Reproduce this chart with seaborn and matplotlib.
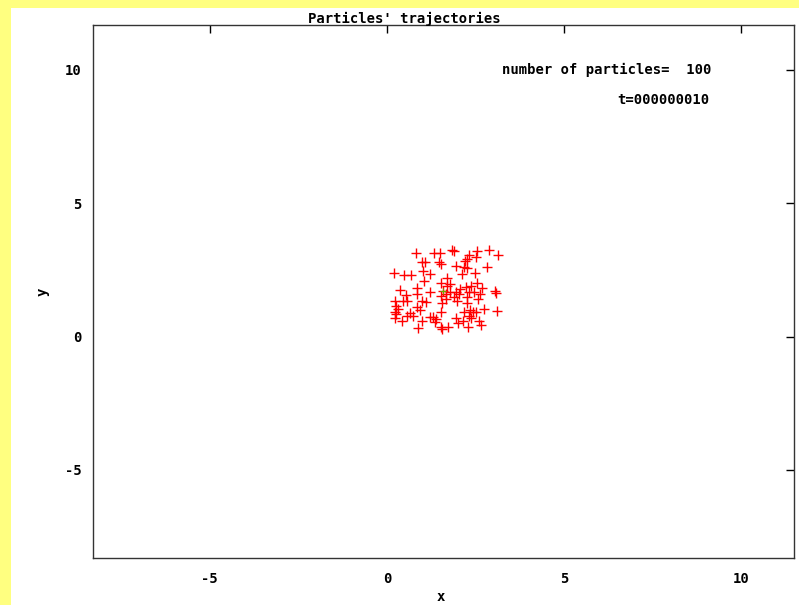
import matplotlib
matplotlib.use("Agg")
import matplotlib.pyplot as plt
import seaborn as sns
import pandas as pd
from matplotlib.patches import Rectangle

# particle positions
px = [0.82, 1.34, 1.50, 1.85, 1.89, 2.33, 2.55, 2.89, 3.13, 0.98,
      1.07, 1.48, 1.52, 1.95, 2.20, 2.25, 2.53, 2.18, 2.27, 2.83,
      0.20, 0.49, 0.68, 1.03, 1.23, 2.11, 2.49, 1.70, 1.05, 1.54,
      1.69, 2.23, 2.39, 2.55, 2.70, 0.37, 0.84, 1.21, 1.59, 1.78,
      1.95, 2.04, 2.33, 2.46, 2.63, 3.05, 3.08, 0.54, 0.84, 1.54,
      1.67, 1.89, 2.27, 2.58, 0.23, 0.46, 0.56, 0.98, 1.10, 1.99,
      0.27, 0.84, 1.57, 2.27, 0.93, 2.34, 2.44, 0.23, 0.65, 0.74,
      1.29, 1.52, 1.95, 2.18, 2.53, 2.74, 3.10, 0.23, 0.44, 0.98,
      1.40, 2.16, 2.39, 2.61, 0.89, 1.52, 1.57, 1.73, 2.30, 0.27,
      0.32, 0.56, 1.21, 2.33, 2.67, 2.01, 1.36, 1.78, 2.06, 1.67]
py = [3.12, 3.12, 3.12, 3.25, 3.20, 3.04, 3.22, 3.25, 3.04, 2.81,
      2.81, 2.79, 2.72, 2.66, 2.85, 2.91, 2.97, 2.62, 2.57, 2.60,
      2.39, 2.31, 2.31, 2.45, 2.35, 2.35, 2.39, 2.20, 2.10, 2.00,
      1.91, 1.87, 1.91, 2.00, 1.82, 1.75, 1.82, 1.66, 1.72, 1.66,
      1.66, 1.60, 1.66, 1.66, 1.60, 1.72, 1.62, 1.57, 1.60, 1.54,
      1.60, 1.47, 1.47, 1.41, 1.35, 1.32, 1.35, 1.35, 1.29, 1.35,
      1.16, 1.12, 1.25, 1.25, 1.00, 1.00, 0.94, 0.91, 0.87, 0.79,
      0.75, 0.91, 0.70, 0.91, 0.91, 1.04, 0.95, 0.70, 0.57, 0.57,
      0.66, 0.60, 0.70, 0.60, 0.33, 0.35, 0.29, 0.35, 0.35, 0.85,
      1.04, 0.79, 0.75, 0.79, 0.45, 0.50, 0.54, 1.97, 1.79, 1.41]
center_x = [1.59]
center_y = [1.72]
ticks = [-5, 0, 5, 10]
n_particles = 100
step = 10

df = pd.DataFrame({"x": px, "y": py})

sns.set_style("white")
plt.rcParams["font.family"] = ["DejaVu Sans Mono"]
plt.rcParams["font.weight"] = "bold"
plt.rcParams["text.color"] = "black"
plt.rcParams["axes.unicode_minus"] = False

fig = plt.figure(figsize=(7.99, 6.05), dpi=100)
fig.patch.set_facecolor("#ffff80")
fig.patches.append(Rectangle((11 / 799, 0), 1, 1 - 8 / 605, transform=fig.transFigure,
                             facecolor="white", edgecolor="none", zorder=-5))
ax = fig.add_axes([93 / 799, 1 - 558 / 605, 701 / 799, 533 / 605])
ax.set_zorder(2)

sns.scatterplot(data=df, x="x", y="y", marker="+", color="red", s=55,
                linewidth=1.0, ax=ax)
sns.scatterplot(x=center_x, y=center_y, marker="+", color="#66aa00", s=25,
                linewidth=0.8, ax=ax)

ax.set_xlim(-8.3, 11.5)
ax.set_ylim(-8.3, 11.68)
ax.set_xticks(ticks)
ax.set_yticks(ticks)
ax.tick_params(direction="in", length=6, width=1, top=True, right=True,
               labelsize=10, colors="black")
ax.tick_params(axis="x", pad=10)
ax.tick_params(axis="y", pad=8)
for lab in ax.get_xticklabels() + ax.get_yticklabels():
    lab.set_fontweight("bold")
for sp in ax.spines.values():
    sp.set_color("#333333")
    sp.set_linewidth(1)
ax.set_xlabel("")
ax.set_ylabel("")

fig.text(441 / 799, 1 - 597 / 605, "x", ha="center", va="center", fontsize=10, fontweight="bold")
fig.text(43 / 799, 1 - 292 / 605, "y", ha="center", va="center", rotation=90,
         fontsize=10, fontweight="bold")
fig.text(404 / 799, 1 - 19 / 605, "Particles' trajectories", ha="center", va="center",
         fontsize=10, fontweight="bold")
ax.text(0.882, 0.916, "number of particles=  %d" % n_particles, transform=ax.transAxes,
        ha="right", va="center", fontsize=10, fontweight="bold")
ax.text(0.879, 0.859, "t=%09d" % step, transform=ax.transAxes,
        ha="right", va="center", fontsize=10, fontweight="bold")

fig.savefig("out.png", dpi=100, facecolor=fig.get_facecolor())
